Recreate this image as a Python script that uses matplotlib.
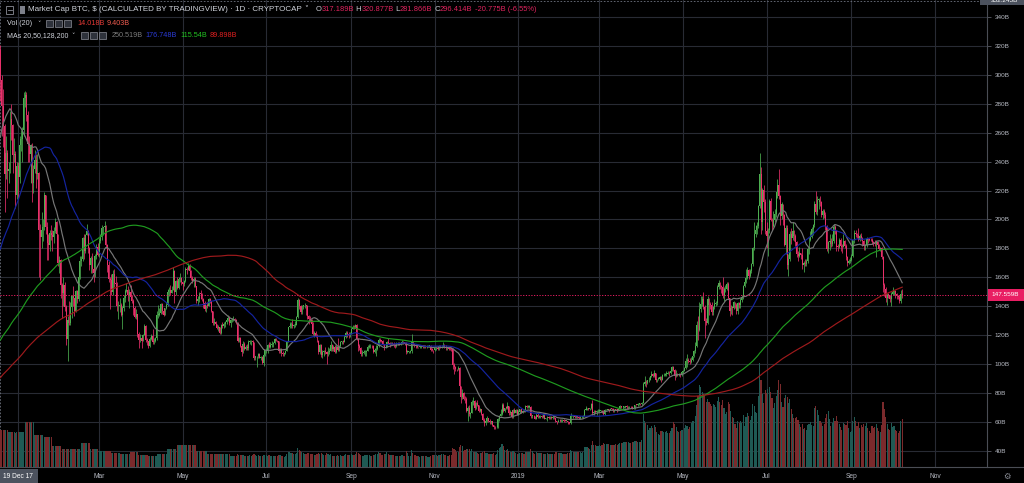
import numpy as np
import pandas as pd
import matplotlib
matplotlib.use("Agg")
import matplotlib.pyplot as plt
import matplotlib.dates as mdates
from matplotlib.patches import Rectangle

plt.rcParams['font.family'] = ['Liberation Sans', 'DejaVu Sans']

# ---------------- data (market cap in billions USD) ----------------
# closes before the first visible bar (used only for the moving averages)
pre_2017_06 = [41,41,41,44,47,45,46,46,48,48,44,44,41,40,41,43,42,42,45,44,44,45,42,42,41,42,42,42,41]
pre_2017_07 = [40,41,42,43,43,43,41,42,41,39,38,39,39,37,33,32,37,38,37,46,44,46,45,45,42,42,44,46,45,45,47]
pre_2017_08 = [45,45,46,48,54,53,56,57,55,56,60,64,67,72,69,72,72,69,69,68,66,68,69,72,72,72,72,72,76,75,78]
pre_2017_09 = [81,76,76,70,73,76,76,70,70,68,69,68,64,52,60,60,59,67,65,65,60,60,63,61,65,65,70,70,69,72]
pre_2017_10 = [73,73,72,70,72,73,74,77,79,80,80,90,94,97,94,95,93,93,95,100,100,100,98,92,96,98,96,96,102,102,108]
pre_2017_11 = [113,118,120,123,124,117,119,124,119,110,106,99,110,111,122,131,129,130,134,137,135,138,135,138,146,154,162,165,164,171]
pre_2017_12 = [184,185,190,195,200,239,300,277,254,259,284,292,275,277,296,326,320,317.189]

first_date = "2017-12-19"

close_2017_12 = [296.4,278.5,264.7,231.7,246.2,233.3,234.9,269.7,265.3,244.7,245.5,216.9,237.1]
high_2017_12 = [320.9,300,290,266,258,248,240,275,280,266,256,247,240]
low_2017_12 = [281.9,258,250,205,228,215,225,232,255,232,240,208,214]
vol_2017_12 = [14.0,14.0,14.1,14.0,14.0,13.9,13.1,13.1,13.2,13.1,13.1,13.0,13.1]

close_2018_01 = [229.4,251.7,255.4,262.1,284,286,272,252,245.2,251.5,225.2,234.9,241.2,231.4,232.2,193.0,188.0,192.8,195.0,216.7,194.9,183.6,182.6,190.8,189.2,187.7,192.2,198.0,189.8,169.8,171.7]
high_2018_01 = [240,258,262,264,288,289,288,275,258,252,253,238,248,245,245,233,197,205,200,219,217,198,190,193,196,193,195,201,199,190,175]
low_2018_01 = [215,225,247,240,258,278,268,240,240,225,212,218,232,222,228,160,158,180,185,193,190,172,172,178,186,178,184,191,188,168,163]
vol_2018_01 = [13.4,13.4,13.4,13.4,13.4,16.9,16.9,16.9,16.9,16.9,16.9,16.9,12.1,12.1,12.1,12.1,12.1,12.1,12.1,11.2,11.2,11.2,11.2,11.2,11.2,8.1,8.1,8.1,8.1,8.1,8.1]

close_2018_02 = [154.6,148.9,154.7,139.5,117.3,130.7,128.5,139.3,147.3,145.4,137.1,150.5,145.0,160.1,171.4,172.5,187.3,177.9,189.3,192.3,180.2,168.7,173.7,165.5,162.9,174.8,180.8,175.3]
high_2018_02 = [173,156,160,157,141,133,144,143,148,154,146,151,151,161,175,175,188,190,190,197,193,181,175,177,167,176,183,184]
low_2018_02 = [146,132,140,137,113,102,127,127,132,140,133,136,142,144,159,168,171,173,177,189,177,165,163,163,157,160,173,175]
vol_2018_02 = [8.1,6.8,6.8,6.8,6.8,6.8,6.8,6.8,6.8,6.8,6.8,6.8,6.8,6.8,6.8,9.0,9.0,9.0,9.0,9.0,9.0,9.0,6.8,6.8,6.8,6.8,6.8,6.8]

close_2018_03 = [185.3,187.6,194.4,194.8,195.8,182.4,168.6,159.0,158.0,150.0,162.1,155.8,155.6,139.9,140.5,141.1,133.9,139.1,146.0,150.8,151.1,147.7,150.2,146.7,143.7,138.9,132.5,134.6,121.2,116.6,118.0]
high_2018_03 = [187,190,196,195,199,196,183,171,160,162,165,166,161,157,144,146,142,140,148,152,156,154,152,155,148,145,140,138,135,122,121]
low_2018_03 = [174,184,186,189,193,180,164,157,138,148,148,153,153,137,131,136,133,124,137,143,150,144,139,146,142,134,132,131,119,111,115]
vol_2018_03 = [6.2,6.2,6.2,6.2,6.2,6.2,6.2,6.2,6.2,5.2,5.2,5.2,5.2,5.2,5.2,5.2,4.9,4.9,4.9,4.9,4.9,4.9,4.9,5.6,5.6,5.6,5.6,5.6,5.6,4.5,4.5]

close_2018_04 = [116.2,120.3,126.6,116.4,115.7,112.7,117.3,119.3,115.0,116.0,118.3,134.0,134.1,135.6,141.4,136.8,134.2,138.6,140.8,150.2,151.0,149.5,151.6,164.7,150.2,157.6,152.6,158.7,159.9,156.9]
high_2018_04 = [119,121,128,127,118,116,119,121,124,118,119,137,141,139,142,142,139,139,143,152,153,155,154,167,165,158,160,160,163,160]
low_2018_04 = [111,116,120,115,113,111,112,117,114,114,115,117,132,133,135,135,133,134,138,140,147,148,149,151,142,148,152,152,157,155]
vol_2018_04 = [4.5,4.5,4.5,4.5,4.5,4.0,4.0,4.0,4.0,4.0,4.0,4.0,5.0,5.0,5.0,5.0,5.0,5.0,5.0,6.8,6.8,6.8,6.8,6.8,6.8,6.8,8.3,8.3,8.3,8.3]

close_2018_05 = [155.4,157.4,166.0,165.3,168.0,164.5,159.7,157.3,158.9,154.1,143.8,144.9,148.6,148.5,145.0,142.6,137.9,140.6,140.5,145.1,143.4,137.0,128.8,129.3,127.5,125.3,125.6,121.6,127.3,126.2,127.7]
high_2018_05 = [157,158,167,167,170,169,165,161,160,160,154,147,150,151,149,146,144,141,143,146,146,144,137,132,130,128,127,126,128,129,129]
low_2018_05 = [151,154,157,162,165,163,158,156,153,153,142,141,143,145,144,139,137,136,139,140,142,136,127,127,126,124,123,121,121,125,125]
vol_2018_05 = [8.3,8.3,8.3,8.3,8.3,8.3,8.3,8.3,8.3,8.3,6.2,6.2,6.2,6.2,6.2,6.2,6.2,6.2,5.0,5.0,5.0,5.0,5.0,5.0,5.0,4.9,4.9,4.9,4.9,4.9,4.9]

close_2018_06 = [129.0,130.7,132.0,128.5,130.5,130.9,131.3,130.4,128.8,116.0,118.1,112.6,108.6,114.1,110.4,112.0,111.1,115.2,115.8,115.9,115.1,104.0,105.4,105.6,106.9,104.2,105.3,101.0,106.3,109.5]
high_2018_06 = [130,131,134,133,131,132,133,132,131,129,119,119,113,116,115,113,114,117,117,117,117,115,106,106,108,108,106,106,107,110]
low_2018_06 = [126,128,130,127,126,129,130,129,128,115,115,112,106,108,110,110,110,110,114,113,114,103,103,98,104,104,103,100,99,106]
vol_2018_06 = [4.9,4.9,4.9,4.9,4.3,4.3,4.3,4.3,4.3,5.0,4.6,4.5,4.6,4.4,4.2,4.0,4.1,4.3,4.4,4.2,4.5,4.8,4.6,4.2,4.4,4.3,4.1,4.3,4.6,4.7]

close_2018_07 = [109.6,113.5,112.0,113.2,113.9,114.5,117.7,116.2,115.7,109.1,110.5,107.4,107.0,107.7,109.1,115.7,125.6,126.5,128.1,126.2,127.3,127.3,132.3,144.6,140.4,136.4,140.1,140.6,141.0,140.4,133.5]
high_2018_07 = [111,114,115,115,116,115,118,118,117,116,111,111,109,108,110,116,126,129,129,131,128,130,133,146,145,141,141,141,142,141,141]
low_2018_07 = [108,108,111,111,112,112,114,116,115,108,108,106,106,106,107,109,115,125,125,125,125,126,127,132,138,135,135,138,139,134,131]
vol_2018_07 = [4.5,4.3,4.4,4.3,4.2,4.1,4.0,4.2,4.3,4.6,4.4,4.2,4.1,3.9,4.0,5.0,5.8,5.6,5.4,5.2,4.9,4.8,5.4,7.2,6.5,5.9,5.6,5.2,4.8,5.0,5.3]

close_2018_08 = [131.3,130.3,128.0,121.1,121.7,119.7,116.3,108.6,113.1,106.5,108.4,108.9,108.5,106.7,108.6,109.1,113.3,110.6,112.0,108.6,111.7,109.8,112.7,115.4,115.7,115.5,119.0,121.6,121.2,120.2,121.2]
high_2018_08 = [134,133,131,129,123,123,121,117,114,114,110,110,112,109,112,111,116,114,113,113,113,118,113,116,116,117,120,123,123,122,122]
low_2018_08 = [128,129,126,120,119,119,115,107,107,105,104,106,107,100,106,107,109,109,109,108,108,109,109,112,114,114,115,118,119,118,119]
vol_2018_08 = [5.2,5.0,4.9,4.8,4.6,4.6,4.9,5.3,5.0,5.4,4.8,4.4,4.6,5.3,5.0,4.6,4.8,4.3,4.1,4.2,4.3,4.5,4.3,4.4,4.1,4.0,4.4,4.8,4.6,4.5,4.6]

close_2018_09 = [124.3,125.7,125.5,127.2,117.4,112.8,110.9,107.0,108.0,108.6,108.6,109.2,112.1,112.3,112.6,112.4,108.2,110.1,110.8,112.4,116.9,116.1,116.0,114.0,111.4,112.2,115.4,114.8,114.1,114.5]
high_2018_09 = [125,127,127,128,128,118,114,112,110,110,110,110,113,114,114,113,113,111,113,113,118,118,117,117,114,114,116,118,115,115]
low_2018_09 = [121,124,124,125,117,109,110,106,106,107,106,106,109,111,111,111,108,108,106,110,112,115,115,113,110,111,112,114,112,113]
vol_2018_09 = [4.8,4.7,4.7,5.0,5.8,5.4,5.0,4.6,4.3,4.3,4.4,4.5,4.7,4.6,4.3,4.2,4.5,4.7,5.0,4.8,5.6,5.2,4.6,4.7,4.9,4.8,5.5,4.9,4.6,4.5]

close_2018_10 = [114.2,113.1,112.3,113.9,114.8,114.1,114.4,115.3,115.1,114.3,108.3,108.7,108.7,109.0,115.3,113.7,113.5,112.3,111.7,111.8,112.0,112.1,112.0,112.2,112.1,112.1,112.5,112.5,110.1,109.7,109.5]
high_2018_10 = [115,115,114,115,115,115,115,117,116,115,115,110,109,110,121,116,114,114,113,112,113,113,113,113,113,113,113,113,113,111,110]
low_2018_10 = [113,112,111,112,113,113,113,114,114,113,107,108,108,108,108,113,112,111,111,111,111,111,111,111,111,111,112,112,109,109,108]
vol_2018_10 = [4.5,4.4,4.3,4.3,4.2,4.0,4.0,4.4,4.3,4.3,5.9,5.4,4.3,4.2,6.3,5.4,4.6,4.4,4.3,4.0,3.9,4.1,4.2,4.2,4.1,4.0,3.9,3.9,4.3,4.4,4.5]

close_2018_11 = [110.9,111.0,110.6,112.7,111.4,112.0,113.5,112.1,111.0,111.4,110.7,110.5,110.4,99.7,98.2,96.9,96.5,97.7,84.7,77.4,80.0,75.9,75.6,67.4,69.7,65.7,66.4,74.0,74.4,69.8]
high_2018_11 = [111,112,112,113,113,113,115,114,113,112,112,112,111,111,101,99,97,99,98,85,83,81,78,77,71,72,67,75,77,75]
low_2018_11 = [109,110,110,110,111,111,112,111,110,110,110,110,109,97,93,95,95,96,83,73,76,75,73,67,61,64,63,66,72,68]
vol_2018_11 = [4.6,4.5,4.3,4.4,4.6,4.8,4.9,4.6,4.4,4.2,4.2,4.4,4.5,7.3,7.0,6.4,5.6,5.5,7.4,8.2,7.8,6.2,6.4,7.0,6.8,6.9,6.0,6.7,5.8,5.5]

close_2018_12 = [73.4,72.1,67.9,69.0,65.4,61.4,59.6,60.6,63.0,61.0,59.7,60.8,57.7,56.5,56.4,56.7,61.8,64.4,65.3,72.1,67.9,70.0,69.7,71.1,66.5,67.2,63.7,68.4,66.6,68.2,65.2]
high_2018_12 = [74,75,72,70,69,66,63,62,64,63,62,61,61,58,57,58,63,65,69,73,73,70,71,74,71,68,68,69,70,69,69]
low_2018_12 = [69,71,67,67,65,61,57,58,60,60,59,59,57,55,55,56,56,61,64,65,67,67,69,69,65,65,63,63,66,66,65]
vol_2018_12 = [5.8,5.2,5.0,5.2,5.3,5.7,6.0,5.4,5.2,5.0,4.8,5.0,5.1,5.2,4.6,4.8,6.6,7.2,7.6,8.7,7.8,6.4,6.3,6.9,6.2,5.8,5.6,5.9,5.5,5.2,5.0]

close_2019_01 = [67.2,68.9,67.1,67.4,67.2,71.2,70.4,70.4,70.5,64.3,64.4,64.0,62.1,64.8,63.5,63.9,64.3,63.4,65.2,62.3,62.6,63.4,62.7,63.3,63.0,63.0,62.6,60.8,60.1,61.0,60.4]
high_2019_01 = [68,69,69,68,69,72,72,72,72,71,65,65,64,66,66,65,65,65,66,66,63,64,64,64,64,65,64,63,61,62,62]
low_2019_01 = [65,66,66,66,67,67,70,70,70,63,63,63,62,62,63,63,63,63,63,62,62,61,62,62,62,62,62,60,59,60,60]
vol_2019_01 = [5.1,5.4,5.3,5.2,5.1,5.6,5.7,5.6,5.5,6.8,5.9,5.3,5.0,5.5,5.3,5.2,5.3,5.2,5.1,5.0,5.1,5.2,5.0,5.1,5.0,4.9,5.0,5.6,5.5,5.4,5.3]

close_2019_02 = [61.1,61.7,60.7,60.6,60.8,59.8,59.6,64.3,64.4,64.7,63.5,63.6,63.4,63.1,63.2,63.4,64.3,68.3,68.5,69.4,68.7,69.7,72.6,66.0,67.2,67.0,67.4,67.6]
high_2019_02 = [62,62,62,61,61,61,60,66,65,65,65,64,64,64,64,64,65,69,71,70,70,70,73,75,68,68,68,69]
low_2019_02 = [60,60,60,60,60,59,59,59,64,63,63,63,63,62,62,63,63,64,68,68,68,68,69,65,65,66,65,67]
vol_2019_02 = [5.2,5.1,5.0,5.0,5.1,5.2,5.3,6.6,6.0,5.5,5.6,5.7,5.6,5.6,5.5,5.4,5.8,7.6,7.5,7.4,7.2,7.0,8.2,10.0,8.4,8.2,8.1,8.0]

close_2019_03 = [67.8,67.9,67.1,65.8,68.0,68.2,68.3,68.2,69.2,69.1,68.1,68.6,68.4,68.3,68.9,70.9,70.2,70.3,70.7,70.9,70.1,70.1,70.3,70.2,69.2,69.4,71.9,71.8,72.4,72.8,72.2]
high_2019_03 = [69,68,68,68,69,69,69,69,70,70,70,69,69,69,69,72,71,71,71,71,72,71,71,71,71,70,72,72,73,73,73]
low_2019_03 = [67,67,66,65,65,68,68,67,68,68,67,67,68,67,68,69,70,69,70,70,69,69,70,70,69,69,69,71,71,72,72]
vol_2019_03 = [8.2,8.0,8.3,9.0,8.9,8.8,8.7,8.6,8.4,8.2,8.4,8.5,8.6,8.5,8.7,9.2,9.0,9.1,9.3,9.4,9.6,9.5,9.1,9.0,9.4,9.6,9.8,9.7,9.6,9.4,9.5]

close_2019_04 = [73.3,86.0,87.7,86.8,88.8,89.2,91.7,93.3,91.8,93.9,89.3,89.7,89.9,91.1,89.3,92.3,92.6,93.4,93.5,94.1,93.6,95.2,98.2,96.3,91.9,93.1,92.9,93.2,92.5,94.3]
high_2019_04 = [74,88,92,89,89,91,92,95,94,96,94,90,91,92,92,93,94,94,95,95,95,97,99,99,97,96,94,94,94,95]
low_2019_04 = [72,73,85,84,86,88,89,91,91,91,88,88,89,89,88,89,92,92,92,93,92,93,95,95,89,91,92,92,91,92]
vol_2019_04 = [10.2,20.0,17.6,16.5,15.8,14.2,14.8,15.6,14.9,15.8,15.2,13.4,12.6,12.2,13.8,13.5,13.2,13.4,13.6,13.0,12.7,13.8,14.9,17.0,16.4,15.0,13.6,13.4,13.6,14.0]

close_2019_05 = [95.6,97.4,102.0,103.2,102.5,101.7,103.1,105.8,109.2,112.8,127.4,123.3,138.2,141.4,145.1,139.5,129.9,128.6,145.0,141.1,140.9,135.9,139.4,141.3,142.4,153.4,155.8,154.3,153.2,147.2,151.7]
high_2019_05 = [96,98,104,107,104,104,105,106,110,115,130,133,143,147,147,150,141,132,147,146,143,143,140,145,144,155,158,157,155,160,153]
low_2019_05 = [94,95,97,98,101,100,101,102,105,108,112,117,123,136,140,138,118,127,128,134,138,134,134,138,140,141,152,152,149,146,144]
vol_2019_05 = [14.0,14.6,15.8,15.6,14.4,15.2,16.8,17.4,17.6,19.2,23.6,26.8,31.0,30.2,28.4,27.6,26.8,24.8,25.6,24.6,23.8,23.2,24.0,23.6,22.8,25.0,26.4,24.8,23.6,25.2,22.4]

close_2019_06 = [152.0,155.2,145.7,136.8,138.9,138.8,142.8,141.2,136.5,142.0,140.7,144.6,146.1,154.3,156.9,159.6,165.4,161.2,164.6,169.1,180.1,189.9,192.7,195.4,209.3,231.1,198.5,220.2,212.3,192.0]
high_2019_06 = [155,157,157,146,141,140,144,143,142,143,143,146,148,155,158,166,167,166,166,170,181,198,196,198,210,246,236,222,224,214]
low_2019_06 = [150,151,145,133,135,134,138,139,135,135,139,139,143,145,153,156,159,159,160,163,168,179,188,190,194,208,190,193,205,190]
vol_2019_06 = [20.2,21.0,24.6,23.8,21.4,19.0,18.4,16.2,14.8,17.6,16.8,17.4,16.6,19.6,15.6,18.8,20.4,19.2,17.8,19.4,24.0,23.2,21.0,20.4,26.8,39.4,33.0,27.6,24.2,29.0]

close_2019_07 = [188.5,192.4,213.0,199.7,195.5,199.6,203.9,218.8,223.9,216.5,202.3,210.4,202.9,182.7,194.0,168.8,172.6,190.0,187.5,191.8,188.8,184.2,176.3,174.7,176.5,175.8,168.8,170.1,169.5,171.1,179.6]
high_2019_07 = [198,194,214,215,201,206,207,219,228,235,217,212,211,204,196,196,176,192,194,198,193,190,185,178,181,177,180,171,173,173,181]
low_2019_07 = [180,175,191,199,193,195,198,202,215,214,196,200,196,182,176,166,161,171,183,186,185,182,174,171,174,173,166,164,168,168,170]
vol_2019_07 = [28.0,29.6,30.2,28.4,26.0,22.4,24.2,26.8,29.2,33.0,31.4,24.8,22.6,26.0,27.2,26.4,24.2,25.6,22.0,20.0,18.4,18.6,19.0,17.8,16.2,15.0,16.4,14.4,14.6,14.2,16.0]

close_2019_08 = [185.8,188.0,193.4,196.0,211.0,205.1,213.4,213.8,212.0,202.9,205.9,203.4,194.7,179.6,184.3,185.4,182.8,184.9,195.1,192.4,181.2,181.0,186.0,181.6,181.2,185.3,182.0,174.3,169.9,171.5,172.1]
high_2019_08 = [188,192,195,197,213,220,216,215,216,213,207,207,205,196,185,190,187,190,197,196,193,183,187,187,183,190,186,183,175,173,174]
low_2019_08 = [176,185,187,189,195,204,203,207,209,202,200,201,193,178,177,179,181,182,184,190,178,178,180,178,177,181,180,172,168,169,170]
vol_2019_08 = [16.4,17.2,15.8,15.6,22.4,23.2,21.6,19.8,17.6,16.8,15.6,16.2,18.4,20.0,21.4,18.2,15.4,16.8,18.6,17.4,19.2,17.6,16.2,15.0,14.2,16.8,16.4,15.8,17.4,14.8,13.4]

close_2019_09 = [174.9,185.5,190.5,190.0,189.6,185.6,188.6,187.2,185.3,181.4,182.5,186.7,185.8,185.7,185.5,184.2,183.6,182.9,184.1,182.5,179.6,180.6,174.4,154.6,152.2,145.6,147.9,147.8,145.3,148.7]
high_2019_09 = [176,186,193,193,191,194,190,191,188,186,183,188,187,187,187,187,185,186,186,185,183,181,181,175,156,153,149,149,148,150]
low_2019_09 = [171,174,184,188,187,185,185,186,182,179,179,181,184,185,185,183,182,182,174,181,179,178,173,150,147,143,141,146,143,140]
vol_2019_09 = [13.6,17.4,19.0,17.6,15.4,17.2,14.6,15.8,15.0,16.2,15.4,16.6,14.8,13.6,13.0,15.6,14.8,15.2,16.4,14.6,13.8,13.4,15.8,24.6,22.0,18.8,16.2,14.4,14.0,16.6]

close_2019_10 = [149.9,150.8,148.4,147.4,146.5,143.6,148.2,147.559]
high_2019_10 = [153,151,151,149,148,148,151,152]
low_2019_10 = [148,148,146,145,145,142,142,146]
vol_2019_10 = [15.2,15.4,14.2,13.6,12.8,13.8,17.6,18.0]

price_ticks = [40,60,80,100,120,140,160,180,200,220,240,260,280,300,320,340]
month_ticks = ["2018-01-01","2018-03-01","2018-05-01","2018-07-01","2018-09-01","2018-11-01",
               "2019-01-01","2019-03-01","2019-05-01","2019-07-01","2019-09-01","2019-11-01"]
month_labels = ["","Mar","May","Jul","Sep","Nov","2019","Mar","May","Jul","Sep","Nov"]
ma_periods = [20, 50, 128, 200]
ma_colors = ["#777777", "#1424a0", "#1f9a1f", "#9e1a1c"]
last_price = 147.559

# ---------------- assemble ----------------
months = ["2017_12","2018_01","2018_02","2018_03","2018_04","2018_05","2018_06","2018_07","2018_08",
          "2018_09","2018_10","2018_11","2018_12","2019_01","2019_02","2019_03","2019_04","2019_05",
          "2019_06","2019_07","2019_08","2019_09","2019_10"]
g = globals()
close, high, low, vol = [], [], [], []
for m in months:
    c, h, l, v = g["close_" + m], g["high_" + m], g["low_" + m], g["vol_" + m]
    if not (len(c) == len(h) == len(l) == len(v)):
        raise SystemExit(f"length mismatch {m}: {len(c)} {len(h)} {len(l)} {len(v)}")
    close += c; high += h; low += l; vol += v
pre = pre_2017_06 + pre_2017_07 + pre_2017_08 + pre_2017_09 + pre_2017_10 + pre_2017_11 + pre_2017_12

close = np.array(close, float); high = np.array(high, float)
low = np.array(low, float); vol = np.array(vol, float)
n = len(close)
dates = pd.date_range(first_date, periods=n, freq="D")
x = mdates.date2num(dates.to_pydatetime())
opn = np.concatenate([[pre[-1]], close[:-1]])
high = np.maximum(high, np.maximum(opn, close))
low = np.minimum(low, np.minimum(opn, close))
up = close >= opn

full = pd.Series(list(pre) + list(close))
mas = [full.rolling(p).mean().values[len(pre):] for p in ma_periods]

# ---------------- figure ----------------
W, H = 1024, 483
fig = plt.figure(figsize=(W / 100, H / 100), dpi=100, facecolor="#000000")
rect = [0, 16 / H, 987 / W, 467 / H]
gax = fig.add_axes(rect, facecolor="#000000", zorder=0)
vax = fig.add_axes(rect, sharex=gax, facecolor="none", zorder=1)
ax = fig.add_axes(rect, sharex=gax, sharey=gax, facecolor="none", zorder=2)

px_per_day = 1.3705
x0 = x[0] - 0.3
gax.set_xlim(x0, x0 + 987 / px_per_day)
gax.set_ylim(28.94, 351.7)
vax.set_ylim(0, 467 / 2.64)

grid_c = "#282b34"
gax.set_yticks(price_ticks)
gax.set_yticklabels([f"{t}B" for t in price_ticks])
gax.yaxis.tick_right()
mt = mdates.date2num(pd.to_datetime(month_ticks).to_pydatetime())
gax.set_xticks(mt)
gax.set_xticklabels(month_labels)
gax.grid(True, color=grid_c, linewidth=0.8)
gax.tick_params(axis="y", right=True, length=3, width=0.6, color="#5a5d66", pad=2.5,
                labelsize=4.6, labelcolor="#b8bbc4")
gax.tick_params(axis="x", length=0, pad=4.2, labelsize=4.8, labelcolor="#b8bbc4")
for s in ["top", "left", "bottom"]:
    gax.spines[s].set_visible(False)
gax.spines["right"].set_color("#4a4d55")
gax.spines["right"].set_linewidth(0.8)
for a in (vax, ax):
    a.axis("off")

# volume
vcol = np.where(up, "#1f5a54", "#7a2a2c")
vax.bar(x, vol, width=0.82, color=vcol, linewidth=0)

# candles
ccol = np.where(up, "#4caf50", "#e8306a")
ax.vlines(x, low, high, colors=ccol, linewidth=0.55)
body_lo = np.minimum(opn, close)
body_h = np.maximum(np.abs(close - opn), 0.5)
ax.bar(x, body_h, bottom=body_lo, width=0.72, color=ccol, linewidth=0)

# moving averages
for m, col in zip(mas, ma_colors):
    ax.plot(x, m, color=col, linewidth=0.85)

# price line and crosshair
ax.axhline(last_price, color="#e91e63", linewidth=0.7, linestyle=(0, (1.2, 1.6)))
gax.axvline(x[0], color="#6f7380", linewidth=0.6, linestyle=(0, (2, 2)))
gax.axhline(351.0, color="#6f7380", linewidth=0.6, linestyle=(0, (2, 2)))

# bottom border
fig.add_artist(plt.Line2D([0, 1], [1 - 467 / H, 1 - 467 / H], color="#4a4d55", linewidth=0.8))

def fx(p): return p / W
def fy(p): return 1 - p / H

renderer = fig.canvas.get_renderer()

def seq_text(x_px, y_px, parts, size):
    xp = x_px
    for t, col in parts:
        txt = fig.text(fx(xp), fy(y_px), t, color=col, fontsize=size, va="center", ha="left")
        xp += txt.get_window_extent(renderer).width
    return xp

# right-side labels
fig.add_artist(Rectangle((fx(988), fy(301)), 36 / W, 12 / H, color="#e91e63", lw=0))
fig.text(fx(991), fy(295), "147.559B", color="white", fontsize=4.6, va="center", ha="left")
fig.add_artist(Rectangle((fx(980), fy(5)), 44 / W, 10 / H, color="#4c525e", lw=0))
fig.text(fx(991), fy(0.5), "352.245B", color="white", fontsize=4.6, va="center", ha="left")
fig.text(fx(1007), fy(476), "\u2699", color="#8a8d96", fontsize=6, va="center", ha="center",
         family="DejaVu Sans")

# date label box
fig.add_artist(Rectangle((0, fy(483)), 38 / W, 14 / H, color="#4c525e", lw=0))
fig.text(fx(3), fy(476), "19 Dec 17", color="white", fontsize=4.8, va="center", ha="left")

# header
tc = "#cfd2da"
red = "#e2245f"
fig.add_artist(Rectangle((fx(6), fy(14)), 7 / W, 8 / H, fill=False, edgecolor="#8a8d96", lw=0.6))
fig.add_artist(plt.Line2D([fx(7.5), fx(11.5)], [fy(10), fy(10)], color="#8a8d96", lw=0.6))
fig.add_artist(Rectangle((fx(20), fy(14)), 5 / W, 8 / H, color="#7d808a", lw=0))
end1 = seq_text(28, 9.5, [("Market Cap BTC, $ (CALCULATED BY TRADINGVIEW) \u00b7 1D \u00b7 CRYPTOCAP", tc)], 5.8)
fig.text(fx(end1 + 3), fy(9.5), "\u02c5", color=tc, fontsize=5.5, va="center", family="DejaVu Sans")
seq_text(end1 + 14, 9.5, [("O", tc), ("317.189B", red), (" H", tc), ("320.877B", red),
                          (" L", tc), ("281.866B", red), (" C", tc), ("296.414B", red),
                          (" -20.775B (-6.55%)", red)], 5.4)

fig.text(fx(7), fy(23.5), "Vol (20)", color=tc, fontsize=5.2, va="center")
fig.text(fx(37), fy(23.5), "\u02c5", color=tc, fontsize=4.8, va="center", family="DejaVu Sans")
for ix in (46, 55, 64):
    fig.add_artist(Rectangle((fx(ix), fy(27)), 7 / W, 7 / H, facecolor="#2e323b",
                             edgecolor="#8a8d96", lw=0.5))
fig.text(fx(77), fy(23.5), "14.018B", color="#e53935", fontsize=5.2, va="center")
fig.text(fx(107), fy(23.5), "9.403B", color="#ef5b4f", fontsize=5.2, va="center")

fig.text(fx(7), fy(35.5), "MAs 20,50,128,200", color=tc, fontsize=5.0, va="center")
fig.text(fx(71), fy(35.5), "\u02c5", color=tc, fontsize=4.8, va="center", family="DejaVu Sans")
for ix in (81, 90, 99):
    fig.add_artist(Rectangle((fx(ix), fy(39)), 7 / W, 7 / H, facecolor="#2e323b",
                             edgecolor="#8a8d96", lw=0.5))
ma_vals = [("250.519B", 112, "#7c7c7c"), ("176.748B", 145, "#2b3bd6"),
           ("115.54B", 180, "#22c322"), ("89.898B", 210, "#e02020")]
for t, px, col in ma_vals:
    fig.text(fx(px), fy(35.5), t, color=col, fontsize=5.2, va="center")

fig.savefig("out.png", dpi=100, facecolor=fig.get_facecolor())
